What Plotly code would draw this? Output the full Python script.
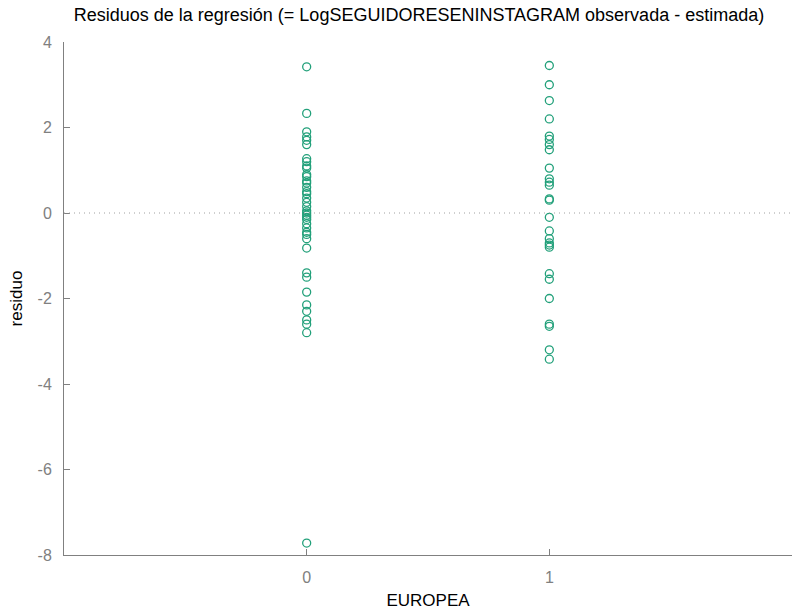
import plotly.graph_objects as go

# Residuals for observations with EUROPEA = 0
resid_europea_0 = [
    3.42, 2.33, 1.90, 1.78, 1.70, 1.60, 1.27, 1.20, 1.10, 1.05,
    0.90, 0.85, 0.75, 0.70, 0.60, 0.50, 0.45, 0.35, 0.25, 0.15,
    0.05, 0.00, -0.05, -0.10, -0.15, -0.25, -0.35, -0.45, -0.50,
    -0.60, -0.82, -1.40, -1.50, -1.85, -2.15, -2.30, -2.50, -2.60,
    -2.80, -7.72,
]
# Residuals for observations with EUROPEA = 1
resid_europea_1 = [
    3.45, 3.00, 2.63, 2.20, 1.80, 1.72, 1.60, 1.48, 1.05,
    0.80, 0.72, 0.65, 0.33, 0.30, -0.10, -0.42, -0.60, -0.70,
    -0.75, -0.80, -1.42, -1.55, -2.00, -2.60, -2.65, -3.20, -3.42,
]

y_ticks = [4, 2, 0, -2, -4, -6, -8]
x_ticks = [0, 1]

xs = [0] * len(resid_europea_0) + [1] * len(resid_europea_1)
ys = resid_europea_0 + resid_europea_1

fig = go.Figure()
fig.add_trace(go.Scatter(
    x=xs, y=ys, mode="markers",
    marker=dict(symbol="circle-open", size=8, color="#22a07a",
                line=dict(width=1.3, color="#22a07a")),
    showlegend=False,
))

# Zero reference line
fig.add_shape(type="line", xref="paper", x0=0, x1=1, yref="y", y0=0, y1=0,
              line=dict(color="#a0a0a0", width=1, dash="1px,4px"))

font_family = "Liberation Sans, Arial, sans-serif"
fig.update_layout(
    width=792, height=611,
    margin=dict(l=64, r=0, t=42, b=56),
    plot_bgcolor="white", paper_bgcolor="white",
    font=dict(family=font_family, size=16, color="#000000"),
    title=dict(text="Residuos de la regresión (= LogSEGUIDORESENINSTAGRAM observada - estimada)",
               x=0.529, xanchor="center", y=0.986, yanchor="top",
               font=dict(size=18, color="#000000", family=font_family)),
    xaxis=dict(range=[-1, 2], tickvals=x_ticks, ticktext=[str(v) for v in x_ticks],
               showgrid=False, zeroline=False, showline=True, linecolor="#808080",
               linewidth=1, ticks="inside", ticklen=6, tickcolor="#808080",
               tickfont=dict(color="#808080", size=16), ticklabelstandoff=8,
               title=dict(text="EUROPEA", font=dict(size=17), standoff=8),
               mirror=False),
    yaxis=dict(range=[-8, 4], tickvals=y_ticks, ticktext=[str(v) for v in y_ticks],
               showgrid=False, zeroline=False, showline=True, linecolor="#808080",
               linewidth=1, ticks="inside", ticklen=6, tickcolor="#808080",
               tickfont=dict(color="#808080", size=16), ticklabelstandoff=8,
               title=dict(text="residuo", font=dict(size=17), standoff=10)),
)

fig.write_html("out.html")
